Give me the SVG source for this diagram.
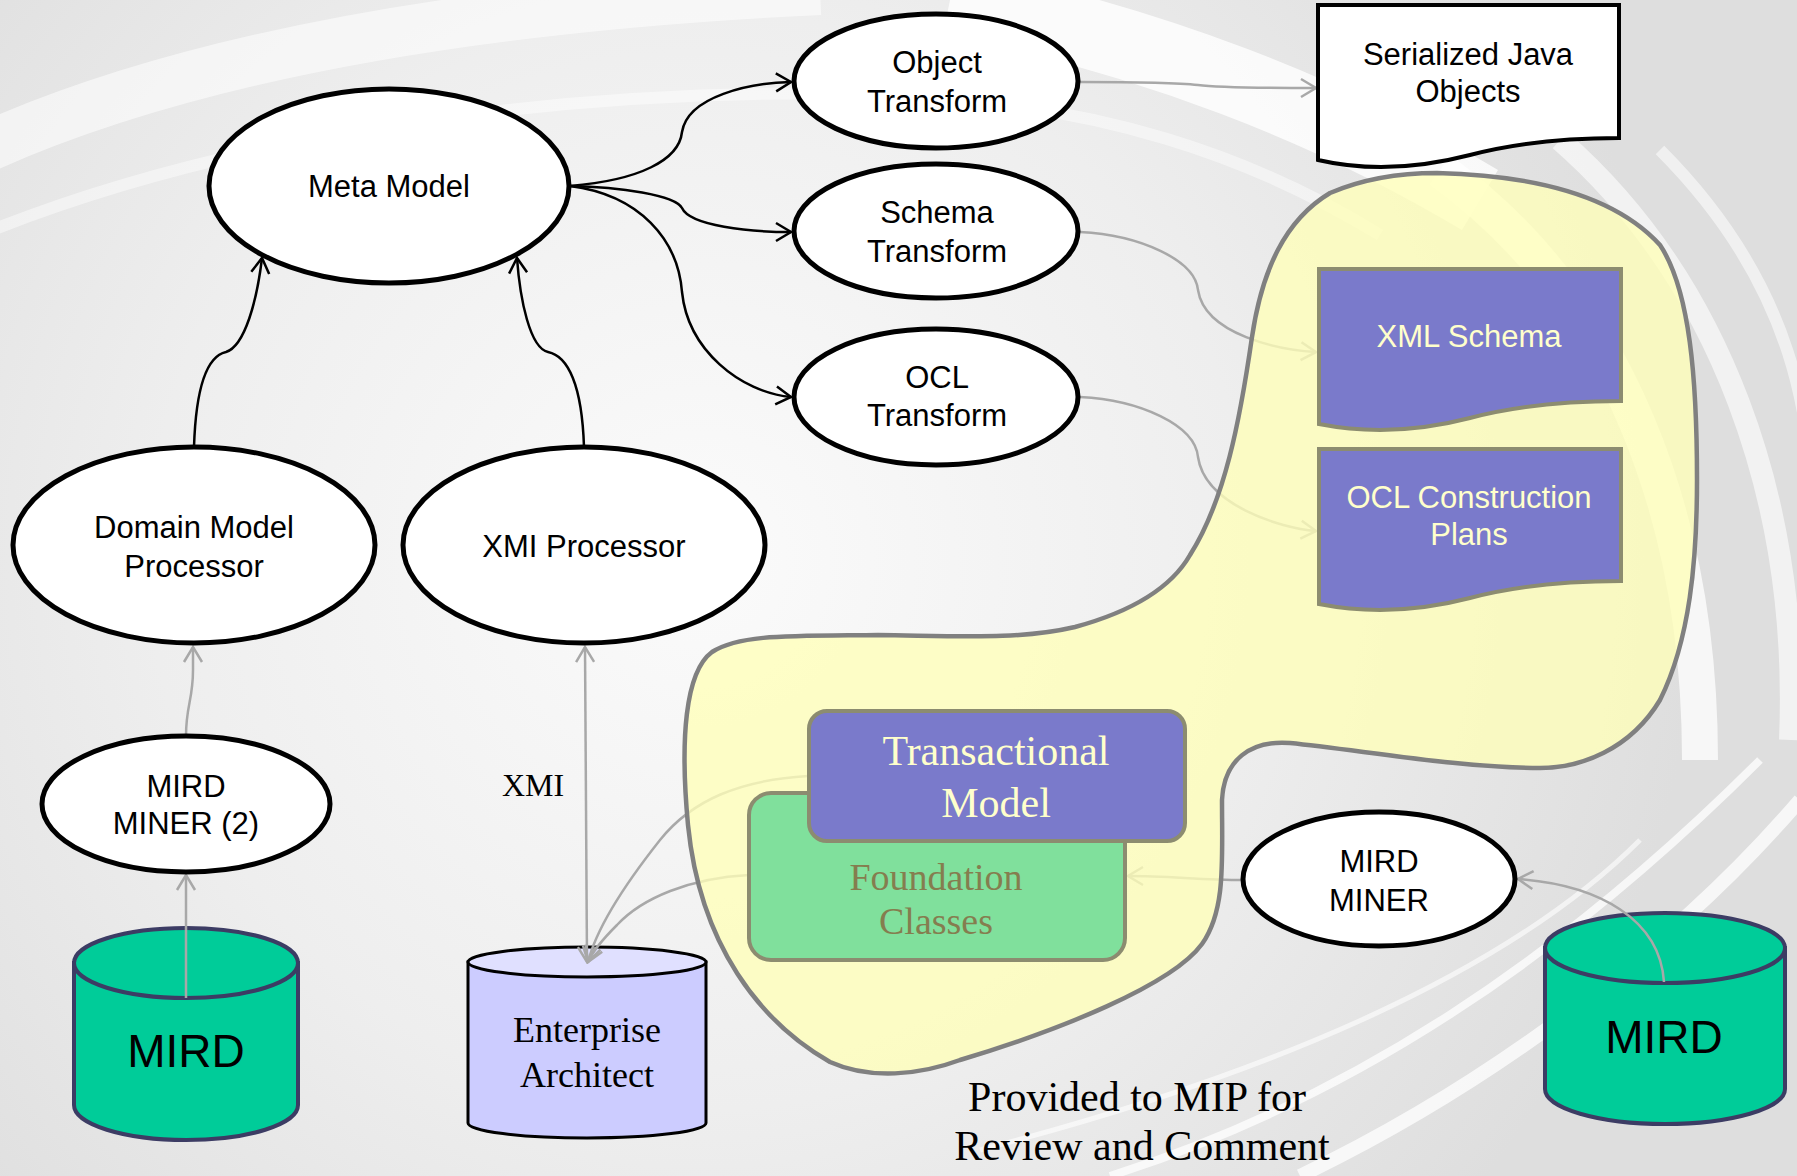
<svg xmlns="http://www.w3.org/2000/svg" width="1797" height="1176" viewBox="0 0 1797 1176">
<defs>
<radialGradient id="bgGlow" cx="700" cy="560" r="1000" gradientUnits="userSpaceOnUse">
<stop offset="0" stop-color="#fbfbfb"/>
<stop offset="0.55" stop-color="#eeeeee"/>
<stop offset="1" stop-color="#dedede"/>
</radialGradient>
<marker id="arrB" viewBox="-17 -11 19 22" refX="0" refY="0" markerWidth="19" markerHeight="22" markerUnits="userSpaceOnUse" orient="auto">
<path d="M-15,-9 L0,0 L-15,9" fill="none" stroke="#000" stroke-width="2.5"/>
</marker>
<marker id="arrG" viewBox="-17 -11 19 22" refX="0" refY="0" markerWidth="19" markerHeight="22" markerUnits="userSpaceOnUse" orient="auto-start-reverse">
<path d="M-15,-9 L0,0 L-15,9" fill="none" stroke="#a8a8a8" stroke-width="2.5"/>
</marker>
<style>
.ell{fill:#fff;stroke:#000;stroke-width:5}
.sans{font-family:"Liberation Sans",Arial,sans-serif;font-size:31px;fill:#000;text-anchor:middle}
.serif{font-family:"Liberation Serif","Times New Roman",serif;text-anchor:middle}
.cb{fill:none;stroke:#000;stroke-width:2.5;marker-end:url(#arrB)}
.cg{fill:none;stroke:#a8a8a8;stroke-width:2.5;marker-end:url(#arrG)}
.doc{fill:#7a7acb;stroke:#8c8c70;stroke-width:4}
.ylw{fill:#ffffcc}
.cyl{fill:#00cc99;stroke:#3c3c64;stroke-width:4}
.swoosh{fill:none;stroke:#fff}
</style>
</defs>

<g id="background">
<rect x="0" y="0" width="1797" height="1176" fill="url(#bgGlow)"/>
<path class="swoosh" d="M-20,150 C200,50 500,5 820,-10" stroke-width="50" opacity="0.55"/>
<path class="swoosh" d="M-20,235 C250,125 600,85 900,95 C1100,105 1250,155 1380,235" stroke-width="12" opacity="0.45"/>
<path class="swoosh" d="M950,0 C1150,40 1330,110 1480,200" stroke-width="70" opacity="0.8"/>
<path class="swoosh" d="M1440,170 C1620,300 1700,520 1700,760" stroke-width="36" opacity="0.75"/>
<path class="swoosh" d="M1560,140 C1720,280 1800,500 1790,740" stroke-width="22" opacity="0.6"/>
<path class="swoosh" d="M1660,150 C1790,280 1820,420 1810,560" stroke-width="12" opacity="0.55"/>
<path class="swoosh" d="M1110,1176 C1350,1100 1560,960 1760,760" stroke-width="8" opacity="0.75"/>
<path class="swoosh" d="M1300,1176 C1500,1080 1680,940 1800,800" stroke-width="14" opacity="0.75"/>
<path class="swoosh" d="M980,1150 C1250,1080 1500,980 1640,840" stroke-width="5" opacity="0.6"/>
</g>

<g id="cylinders">
<g id="mird-left">
<path class="cyl" d="M74,963 L74,1105 A112,35 0 0 0 298,1105 L298,963 Z"/>
<ellipse class="cyl" cx="186" cy="963" rx="112" ry="35"/>
<text x="186" y="1067" font-family="Liberation Sans, Arial, sans-serif" font-size="46" text-anchor="middle" fill="#000">MIRD</text>
</g>
<g id="enterprise-architect">
<path d="M468,962 L468,1123 A119,15 0 0 0 706,1123 L706,962 Z" fill="#ccccff" stroke="#000" stroke-width="3"/>
<ellipse cx="587" cy="962" rx="119" ry="15" fill="#e0e0ff" stroke="#000" stroke-width="3"/>
<text class="serif" x="587" y="1042" font-size="36" fill="#000">Enterprise</text>
<text class="serif" x="587" y="1087" font-size="36" fill="#000">Architect</text>
</g>
<g id="mird-right">
<path class="cyl" d="M1545,948 L1545,1089 A120,35 0 0 0 1785,1089 L1785,948 Z"/>
<ellipse class="cyl" cx="1665" cy="948" rx="120" ry="35"/>
<text x="1664" y="1053" font-family="Liberation Sans, Arial, sans-serif" font-size="46" text-anchor="middle" fill="#000">MIRD</text>
</g>
</g>

<g id="connectors">
<path class="cb" d="M194,447 C196,385 208,356 226,352 C245,346 257,300 262,258"/>
<path class="cb" d="M584,447 C582,385 568,356 548,352 C530,348 520,300 517,258"/>
<path class="cb" d="M570,186 C640,180 679,160 682,132 C688,96 750,83 791,82"/>
<path class="cb" d="M570,186 C620,187 675,195 682,208 C690,226 750,232 791,232"/>
<path class="cb" d="M570,186 C640,195 678,240 682,292 C688,350 740,392 791,397"/>
<path class="cg" d="M1080,82 C1150,82 1180,83 1198,85 C1220,88 1280,88 1316,88"/>
<path class="cg" d="M1080,232 C1140,235 1195,260 1198,290 C1205,335 1280,350 1316,352"/>
<path class="cg" d="M1080,397 C1140,400 1195,425 1198,457 C1205,505 1280,528 1316,531"/>
<path class="cg" d="M186,736 C186,705 193,700 193,670 L193,647"/>
<path class="cg" d="M186,998 L186,875"/>
<path class="cg" d="M585,647 L587,962" marker-start="url(#arrG)"/>
<path class="cg" d="M808,776 C740,780 692,800 660,840 C622,888 596,930 588,962"/>
<path class="cg" d="M749,875 C690,878 642,898 617,925 C600,942 591,955 588,962"/>
<path class="cg" d="M1243,880 C1200,880 1170,876 1128,876"/>
<path class="cg" d="M1664,982 C1660,920 1600,885 1518,879"/>
</g>

<g id="region">
<path d="M1437,173 C1520,175 1610,190 1660,245 C1690,290 1697,380 1697,480 C1697,560 1690,640 1660,700 C1630,750 1580,768 1540,768 C1460,768 1360,750 1290,743 C1250,740 1224,760 1222,800 C1222,860 1226,910 1202,944 C1172,985 1060,1030 960,1060 C920,1075 870,1080 830,1062 C760,1022 700,945 688,825 C680,740 685,672 712,652 C740,634 790,636 878,635 C960,636 1020,640 1075,627 C1130,612 1170,590 1190,555 C1225,500 1240,420 1252,337 C1262,270 1285,220 1330,193 C1365,178 1400,173 1437,173 Z" fill="#ffffb8" fill-opacity="0.78" stroke="#808080" stroke-width="4.5"/>
</g>

<g id="meta-model">
<ellipse class="ell" cx="389" cy="186" rx="180" ry="97"/>
<text class="sans" x="389" y="197">Meta Model</text>
</g>
<g id="object-transform">
<ellipse class="ell" cx="936" cy="81" rx="142" ry="67"/>
<text class="sans" x="937" y="73">Object</text>
<text class="sans" x="937" y="112">Transform</text>
</g>
<g id="schema-transform">
<ellipse class="ell" cx="936" cy="231" rx="142" ry="67"/>
<text class="sans" x="937" y="223">Schema</text>
<text class="sans" x="937" y="262">Transform</text>
</g>
<g id="ocl-transform">
<ellipse class="ell" cx="936" cy="397" rx="142" ry="68"/>
<text class="sans" x="937" y="388">OCL</text>
<text class="sans" x="937" y="426">Transform</text>
</g>
<g id="domain-model-processor">
<ellipse class="ell" cx="194" cy="545" rx="181" ry="98"/>
<text class="sans" x="194" y="538">Domain Model</text>
<text class="sans" x="194" y="577">Processor</text>
</g>
<g id="xmi-processor">
<ellipse class="ell" cx="584" cy="545" rx="181" ry="98"/>
<text class="sans" x="584" y="557">XMI Processor</text>
</g>
<g id="mird-miner-2">
<ellipse class="ell" cx="186" cy="804" rx="144" ry="68"/>
<text class="sans" x="186" y="797">MIRD</text>
<text class="sans" x="186" y="834">MINER (2)</text>
</g>
<g id="mird-miner">
<ellipse class="ell" cx="1379" cy="879" rx="136" ry="67"/>
<text class="sans" x="1379" y="872">MIRD</text>
<text class="sans" x="1379" y="911">MINER</text>
</g>
<g id="xmi-label">
<text class="serif" x="533" y="796" font-size="32" fill="#000">XMI</text>
</g>
<g id="serialized-java-objects">
<path d="M1318,5 L1619,5 L1619,138 C1570,138 1520,142 1470,155 C1420,168 1370,172 1318,160 Z" fill="#fff" stroke="#000" stroke-width="4"/>
<text class="sans" x="1468" y="65">Serialized Java</text>
<text class="sans" x="1468" y="102">Objects</text>
</g>
<g id="xml-schema">
<path class="doc" d="M1319,269 L1621,269 L1621,401 C1570,401 1520,405 1470,418 C1420,431 1370,434 1319,424 Z"/>
<text class="sans ylw" x="1469" y="347">XML Schema</text>
</g>
<g id="ocl-construction-plans">
<path class="doc" d="M1319,449 L1621,449 L1621,581 C1570,581 1520,585 1470,598 C1420,611 1370,614 1319,604 Z"/>
<text class="sans ylw" x="1469" y="508">OCL Construction</text>
<text class="sans ylw" x="1469" y="545">Plans</text>
</g>
<g id="foundation-classes">
<rect x="749" y="793" width="376" height="167" rx="22" fill="#80e09c" stroke="#8c8c70" stroke-width="4"/>
<text class="serif" x="936" y="890" font-size="38" fill="#857d4f">Foundation</text>
<text class="serif" x="936" y="934" font-size="38" fill="#857d4f">Classes</text>
</g>
<g id="transactional-model">
<rect x="809" y="711" width="376" height="130" rx="18" fill="#7a7acb" stroke="#8c8c70" stroke-width="4"/>
<text class="serif" x="996" y="765" font-size="42" fill="#ffffcc">Transactional</text>
<text class="serif" x="996" y="817" font-size="42" fill="#ffffcc">Model</text>
</g>
<g id="note">
<text class="serif" x="1137" y="1111" font-size="42" fill="#000">Provided to MIP for</text>
<text class="serif" x="1142" y="1160" font-size="42" fill="#000">Review and Comment</text>
</g>
</svg>
